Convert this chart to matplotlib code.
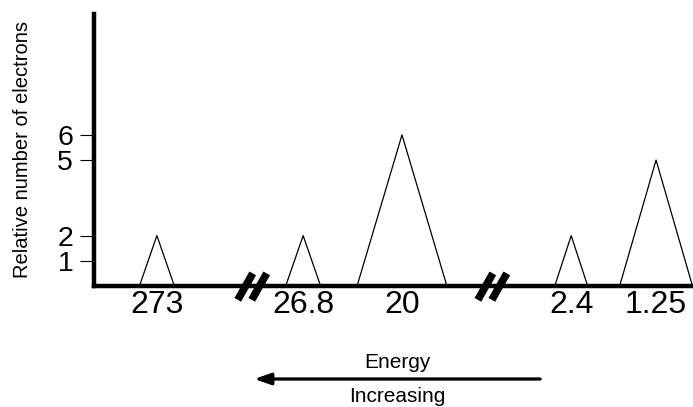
import matplotlib.pyplot as plt

plt.rcParams['font.family'] = ['Liberation Sans', 'DejaVu Sans']

# peaks: energy label, relative number of electrons
energies = ['273', '26.8', '20', '2.4', '1.25']
counts = [2, 2, 6, 2, 5]
# schematic (broken) axis layout: peak centre and half width
centres = [1.26, 4.19, 6.17, 9.56, 11.26]
halfw = [0.35, 0.35, 0.9, 0.33, 0.73]
breaks = [3.17, 7.98]
yticks = [1, 2, 5, 6]

fig = plt.figure(figsize=(6.93, 4.07), dpi=100)
ax = fig.add_axes([94/693, 121/407, 599/693, 272/407])

for c, h, n in zip(centres, halfw, counts):
    ax.plot([c - h, c, c + h], [0, n, 0], color='black', lw=0.9, clip_on=False)

# axis break marks
for b in breaks:
    for d in (-0.14, 0.14):
        ax.plot([b + d - 0.15, b + d + 0.15], [-0.55, 0.5], color='black',
                lw=5.5, solid_capstyle='butt', clip_on=False, zorder=5)

ax.set_xlim(0, 12)
ax.set_ylim(0, 10.8)
for s in ['top', 'right']:
    ax.spines[s].set_visible(False)
ax.spines['left'].set_linewidth(3.2)
ax.spines['bottom'].set_linewidth(3.2)

ax.set_xticks(centres, energies, fontsize=23)
ax.tick_params(axis='x', length=0, pad=3)
ax.set_yticks(yticks, [str(t) for t in yticks], fontsize=20.5)
ax.tick_params(axis='y', length=10, width=0.8, pad=5)
ax.set_ylabel('Relative number of electrons', fontsize=14.5)
ax.yaxis.set_label_coords(-0.104, 0.503)

fig.text(397/693, 1 - 363/407, 'Energy', ha='center', va='center', fontsize=15)
fig.text(397/693, 1 - 397/407, 'Increasing', ha='center', va='center', fontsize=15)
fig.add_artist(plt.annotate('', xy=(252/693, 1 - 379/407), xytext=(543/693, 1 - 379/407),
                            xycoords='figure fraction', textcoords='figure fraction',
                            arrowprops=dict(arrowstyle='-|>,head_length=1.0,head_width=0.35',
                                            color='black', lw=2)))

fig.savefig('out.png', dpi=100)
